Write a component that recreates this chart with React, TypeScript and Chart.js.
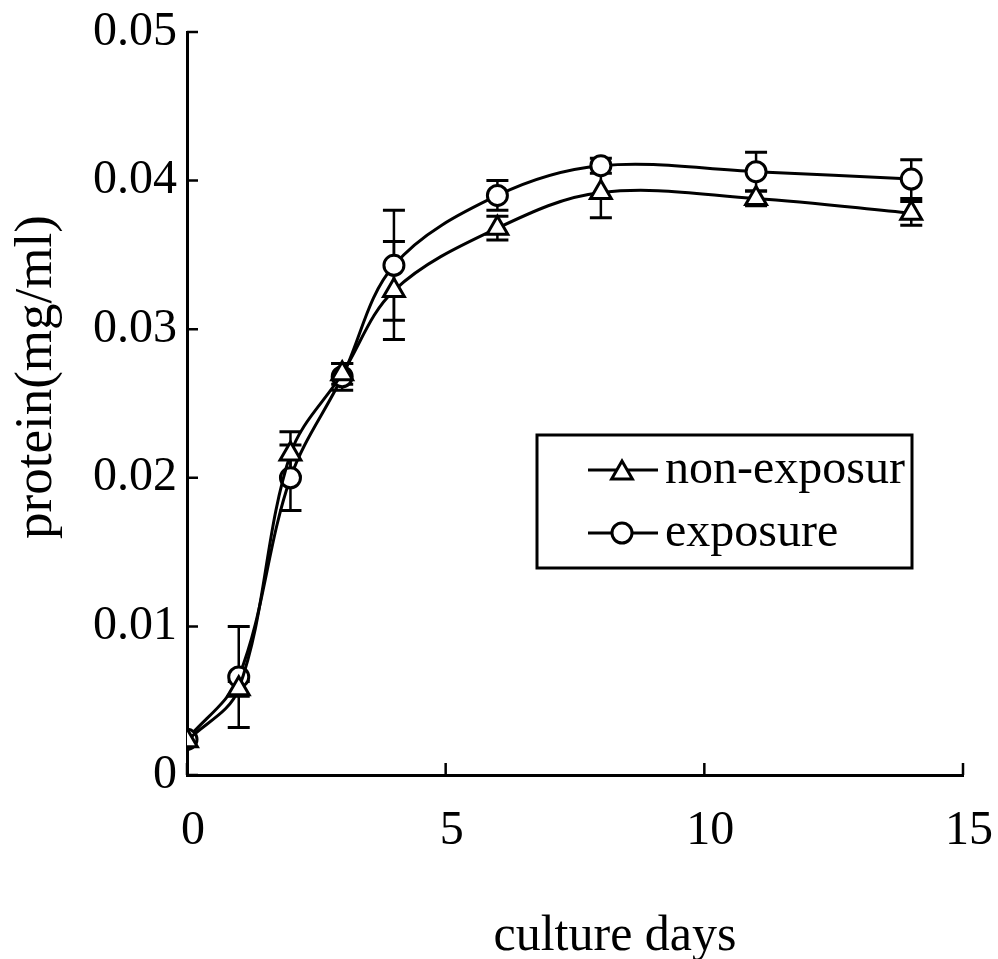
import React, { useEffect, useRef } from "react";
import { Chart, registerables } from "chart.js";

Chart.register(...registerables);

const days = [0, 1, 2, 3, 4, 6, 8, 11, 14];
const nonExposure = [0.0023, 0.0058, 0.0216, 0.027, 0.0326, 0.0368, 0.0392, 0.0388, 0.0378];
const nonExposureErr = [0, 0.0005, 0.0015, 0.0007, 0.0033, 0.0008, 0.0017, 0.0005, 0.0008];
const exposure = [0.0024, 0.0066, 0.02, 0.0268, 0.0343, 0.039, 0.041, 0.0406, 0.0401];
const exposureErr = [0, 0.0034, 0.0022, 0.0009, 0.0037, 0.001, 0.0005, 0.0013, 0.0013];
const xTicks = [0, 5, 10, 15];
const yTicks = [0, 0.01, 0.02, 0.03, 0.04, 0.05];
const seriesNames = ["non-exposur", "exposure"];
const xTitle = "culture days";
const yTitle = "protein(mg/ml)";

const FONT = "'Liberation Serif', 'Times New Roman', serif";

function drawTriangle(ctx: CanvasRenderingContext2D, x: number, y: number, r: number) {
  ctx.beginPath();
  let rad = 0;
  for (let i = 0; i < 3; i++) {
    const px = x + Math.sin(rad) * r;
    const py = y - Math.cos(rad) * r;
    if (i === 0) ctx.moveTo(px, py);
    else ctx.lineTo(px, py);
    rad += (2 * Math.PI) / 3;
  }
  ctx.closePath();
  ctx.fillStyle = "#fff";
  ctx.fill();
  ctx.stroke();
}

function drawCircle(ctx: CanvasRenderingContext2D, x: number, y: number, r: number) {
  ctx.beginPath();
  ctx.arc(x, y, r, 0, Math.PI * 2);
  ctx.fillStyle = "#fff";
  ctx.fill();
  ctx.stroke();
}

const errorBarPlugin = {
  id: "errorBars",
  beforeDatasetsDraw(chart: any) {
    const ctx = chart.ctx;
    const xs = chart.scales.x;
    const ys = chart.scales.y;
    ctx.save();
    ctx.strokeStyle = "#000";
    chart.data.datasets.forEach((ds: any) => {
      const errs: number[] = ds.errors || [];
      ds.data.forEach((p: any, j: number) => {
        const e = errs[j] || 0;
        if (!e) return;
        const x = xs.getPixelForValue(p.x);
        const yt = ys.getPixelForValue(p.y + e);
        const yb = ys.getPixelForValue(p.y - e);
        ctx.lineWidth = 2.5;
        ctx.beginPath();
        ctx.moveTo(x, yt);
        ctx.lineTo(x, yb);
        ctx.stroke();
        ctx.lineWidth = 3;
        ctx.beginPath();
        ctx.moveTo(x - 11, yt);
        ctx.lineTo(x + 11, yt);
        ctx.moveTo(x - 11, yb);
        ctx.lineTo(x + 11, yb);
        ctx.stroke();
      });
    });
    ctx.restore();
  },
};

const decorPlugin = {
  id: "decor",
  afterDraw(chart: any) {
    const ctx = chart.ctx as CanvasRenderingContext2D;
    const xs = chart.scales.x;
    const ys = chart.scales.y;
    const area = chart.chartArea;
    ctx.save();
    ctx.strokeStyle = "#000";
    ctx.lineWidth = 2.5;
    // inward ticks
    ctx.beginPath();
    xTicks.forEach((v) => {
      const px = xs.getPixelForValue(v);
      ctx.moveTo(px, area.bottom);
      ctx.lineTo(px, area.bottom - 12);
    });
    yTicks.forEach((v) => {
      const py = ys.getPixelForValue(v);
      ctx.moveTo(area.left, py);
      ctx.lineTo(area.left + 11, py);
    });
    ctx.stroke();

    // titles
    ctx.fillStyle = "#000";
    ctx.font = `50px ${FONT}`;
    ctx.textAlign = "center";
    ctx.textBaseline = "alphabetic";
    ctx.fillText(xTitle, 615, 950);
    ctx.save();
    ctx.translate(51, 377);
    ctx.rotate(-Math.PI / 2);
    ctx.font = `53px ${FONT}`;
    ctx.fillText(yTitle, 0, 0);
    ctx.restore();

    // legend
    const bx = 537, by = 435, bw = 375, bh = 133;
    ctx.lineWidth = 3;
    ctx.strokeRect(bx, by, bw, bh);
    ctx.save();
    ctx.beginPath();
    ctx.rect(bx, by, bw - 2, bh);
    ctx.clip();
    const rows = [470, 533];
    rows.forEach((ry, i) => {
      ctx.lineWidth = 3;
      ctx.beginPath();
      ctx.moveTo(588, ry);
      ctx.lineTo(658, ry);
      ctx.stroke();
      ctx.lineWidth = 3;
      if (i === 0) drawTriangle(ctx, 622, ry + 3, 12);
      else drawCircle(ctx, 622, ry, 10);
      ctx.fillStyle = "#000";
      ctx.font = `48px ${FONT}`;
      ctx.textAlign = "left";
      ctx.textBaseline = "middle";
      ctx.fillText(seriesNames[i], 665, ry);
    });
    ctx.restore();
    ctx.restore();
  },
};

function zeroPad(s: any) {
  s.paddingLeft = 0;
  s.paddingRight = 0;
  s.paddingTop = 0;
  s.paddingBottom = 0;
}

export default function App() {
  const ref = useRef<HTMLCanvasElement | null>(null);
  useEffect(() => {
    if (!ref.current) return;
    const chart = new Chart(ref.current, {
      type: "line",
      data: {
        datasets: [
          {
            label: seriesNames[0],
            data: days.map((d, i) => ({ x: d, y: nonExposure[i] })),
            errors: nonExposureErr,
            borderColor: "#000",
            borderWidth: 3,
            tension: 0.35,
            pointStyle: "triangle",
            pointRadius: 12,
            pointBorderWidth: 3,
            pointBackgroundColor: "#fff",
            pointBorderColor: "#000",
          } as any,
          {
            label: seriesNames[1],
            data: days.map((d, i) => ({ x: d, y: exposure[i] })),
            errors: exposureErr,
            borderColor: "#000",
            borderWidth: 3,
            tension: 0.35,
            pointStyle: "circle",
            pointRadius: 10,
            pointBorderWidth: 3,
            pointBackgroundColor: "#fff",
            pointBorderColor: "#000",
          } as any,
        ],
      },
      options: {
        responsive: false,
        animation: false,
        devicePixelRatio: 1,
        layout: { padding: { top: 32, right: 35, left: 0, bottom: 0 } },
        plugins: {
          legend: { display: false },
          tooltip: { enabled: false },
        },
        scales: {
          x: {
            type: "linear",
            min: 0,
            max: 15,
            afterFit: (s: any) => {
              s.height = 184;
              zeroPad(s);
            },
            afterBuildTicks: (s: any) => {
              s.ticks = xTicks.map((v) => ({ value: v }));
            },
            ticks: {
              color: "#000",
              font: { family: FONT, size: 48 },
              padding: 28,
              labelOffset: 6,
              maxRotation: 0,
            },
            grid: { display: true, drawOnChartArea: false, drawTicks: false },
            border: { color: "#000", width: 3 },
          },
          y: {
            type: "linear",
            min: 0,
            max: 0.05,
            afterFit: (s: any) => {
              s.width = 187;
              zeroPad(s);
            },
            afterBuildTicks: (s: any) => {
              s.ticks = yTicks.map((v) => ({ value: v }));
            },
            ticks: {
              color: "#000",
              font: { family: FONT, size: 48 },
              padding: 10,
            },
            grid: { display: true, drawOnChartArea: false, drawTicks: false },
            border: { color: "#000", width: 3 },
          },
        },
      } as any,
      plugins: [errorBarPlugin, decorPlugin],
    });
    return () => chart.destroy();
  }, []);
  return (
    <div style={{ position: "absolute", left: 0, top: 0, width: 998, height: 959, background: "#fff" }}>
      <canvas ref={ref} width={998} height={959} />
    </div>
  );
}
